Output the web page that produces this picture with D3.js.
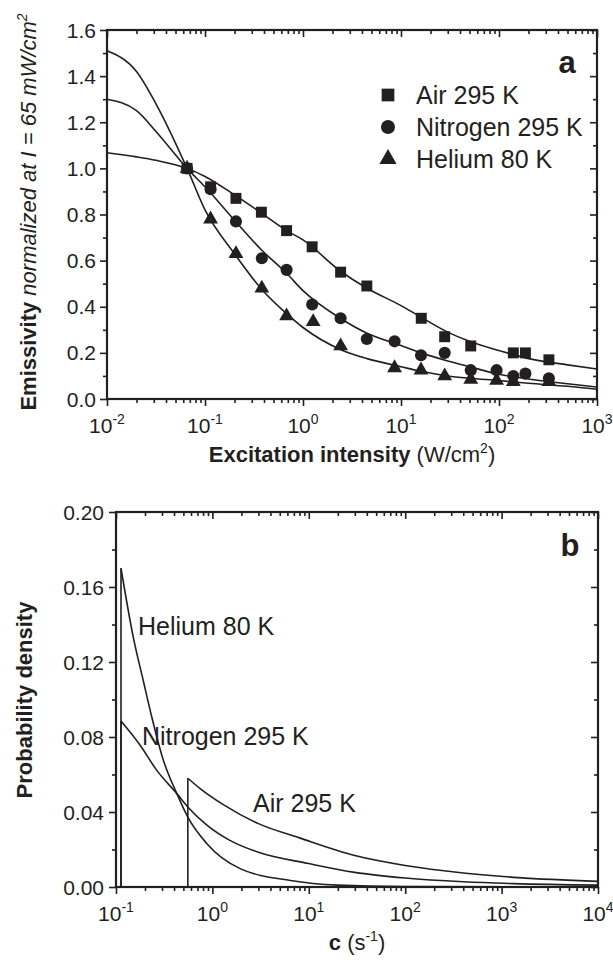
<!DOCTYPE html>
<html>
<head>
<meta charset="utf-8">
<script src="https://cdn.jsdelivr.net/npm/d3@7"></script>
<style>
  body { margin: 0; background: #fff; }
  text { font-family: "Liberation Sans", Arial, sans-serif; fill: #231f20; }
</style>
</head>
<body>
<script>
// ---- panel a : measured points ----
var airI = [0.0656, 0.114, 0.207, 0.376, 0.68, 1.24, 2.42, 4.48, 16.1, 27.9, 51.5, 140, 186, 323];
var airE = [1.00, 0.92, 0.87, 0.81, 0.73, 0.66, 0.55, 0.49, 0.35, 0.27, 0.23, 0.20, 0.20, 0.17];
var n2I = [0.0656, 0.114, 0.207, 0.38, 0.68, 1.24, 2.42, 4.48, 8.6, 16.0, 27.9, 51.5, 94.5, 140, 186, 323];
var n2E = [1.00, 0.91, 0.77, 0.61, 0.56, 0.41, 0.35, 0.26, 0.25, 0.19, 0.20, 0.125, 0.125, 0.10, 0.11, 0.09];
var heI = [0.0656, 0.114, 0.207, 0.38, 0.68, 1.27, 2.42, 8.6, 16.0, 27.9, 51.5, 94.5, 140, 323];
var heE = [1.00, 0.78, 0.63, 0.48, 0.36, 0.335, 0.23, 0.135, 0.125, 0.10, 0.085, 0.08, 0.075, 0.075];

// ---- panel a : fitted curves ----
var fitI = [0.01, 0.02, 0.0316, 0.0656, 0.1, 0.2, 0.38, 0.68, 1, 2.4, 4.5, 10, 16, 30, 50, 100, 200, 500, 1000];
var airFit = [1.068, 1.05, 1.035, 1.0, 0.965, 0.885, 0.805, 0.73, 0.69, 0.555, 0.48, 0.405, 0.355, 0.29, 0.25, 0.21, 0.175, 0.148, 0.13];
var n2Fit  = [1.30, 1.25, 1.16, 1.0, 0.92, 0.775, 0.645, 0.545, 0.47, 0.35, 0.285, 0.232, 0.2, 0.165, 0.14, 0.107, 0.087, 0.066, 0.052];
var heFit  = [1.51, 1.42, 1.28, 1.0, 0.82, 0.63, 0.475, 0.37, 0.31, 0.215, 0.175, 0.14, 0.12, 0.10, 0.09, 0.08, 0.068, 0.055, 0.042];

// ---- panel b : probability densities ----
var heC = [0.1127, 0.151, 0.192, 0.235, 0.31, 0.428, 0.556, 0.877, 1.94, 6.44, 20, 100, 10000];
var heP = [0.170, 0.1333, 0.110, 0.0907, 0.0676, 0.0498, 0.0373, 0.0231, 0.0098, 0.0035, 0.001, 0.0002, 0];
var n2C = [0.1127, 0.178, 0.265, 0.428, 0.556, 0.877, 1.5, 3, 10, 30, 100, 400, 1340, 10000];
var n2P = [0.0885, 0.0756, 0.0622, 0.0498, 0.0427, 0.033, 0.025, 0.0185, 0.0125, 0.0078, 0.0048, 0.0028, 0.0018, 0.001];
var airC = [0.556, 0.746, 1.31, 3, 8, 30, 100, 400, 1500, 10000];
var airP = [0.058, 0.0525, 0.0438, 0.0338, 0.0262, 0.0168, 0.0115, 0.0075, 0.005, 0.003];

var legendNames = ["Air 295 K", "Nitrogen 295 K", "Helium 80 K"];
var aYTicks = [0, 0.2, 0.4, 0.6, 0.8, 1.0, 1.2, 1.4, 1.6];
var bYTicks = [0, 0.04, 0.08, 0.12, 0.16, 0.20];

var W = 613, H = 962;
var svg = d3.select("body").append("svg").attr("width", W).attr("height", H);
svg.append("rect").attr("width", W).attr("height", H).attr("fill", "#fff");

function logMinors(lo, hi){
	var out = [];
	for (var e = lo; e < hi; e++){
		for (var k = 2; k <= 9; k++){ out.push(k * Math.pow(10, e)); }
	}
	return out;
}
function decades(lo, hi){
	var out = [];
	for (var e = lo; e <= hi; e++){ out.push(Math.pow(10, e)); }
	return out;
}

// frame + mirrored ticks
function drawAxes(g, x, y, box, xMajor, xMinor, yMajor, yMinor){
	function ax(axis, tr, size, vals){
		var a = g.append("g").attr("transform", tr)
			.call(axis.tickValues(vals).tickSize(size).tickFormat(""));
		a.select(".domain").remove();
		a.selectAll("line").attr("stroke", "#231f20").attr("stroke-width", 1.6);
	}
	ax(d3.axisBottom(x), "translate(0," + box.b + ")", 7, xMajor);
	ax(d3.axisBottom(x), "translate(0," + box.b + ")", 4, xMinor);
	ax(d3.axisTop(x), "translate(0," + box.t + ")", -7, xMajor);
	ax(d3.axisTop(x), "translate(0," + box.t + ")", -4, xMinor);
	ax(d3.axisLeft(y), "translate(" + box.l + ",0)", 7, yMajor);
	ax(d3.axisLeft(y), "translate(" + box.l + ",0)", 4, yMinor);
	ax(d3.axisRight(y), "translate(" + box.r + ",0)", -7, yMajor);
	ax(d3.axisRight(y), "translate(" + box.r + ",0)", -4, yMinor);
	g.append("rect")
		.attr("x", box.l).attr("y", box.t)
		.attr("width", box.r - box.l).attr("height", box.b - box.t)
		.attr("fill", "none").attr("stroke", "#231f20").attr("stroke-width", 2.2);
}

function xLabels(g, x, vals, yPos){
	vals.forEach(function(v){
		var t = g.append("text").attr("x", x(v)).attr("y", yPos)
			.attr("text-anchor", "middle").style("font-size", "21px");
		t.append("tspan").text("10");
		t.append("tspan").attr("dy", -9).style("font-size", "14px").text(Math.round(Math.log10(v)));
	});
}
function yLabels(g, y, vals, xPos, fmt){
	vals.forEach(function(v){
		g.append("text").attr("x", xPos).attr("y", y(v) + 7.5)
			.attr("text-anchor", "end").style("font-size", "21px").text(fmt(v));
	});
}

//===============================================
// Panel a
//===============================================
var boxA = {l: 107, r: 597, t: 30, b: 399};
var xA = d3.scaleLog().domain([1e-2, 1e3]).range([boxA.l, boxA.r]);
var yA = d3.scaleLinear().domain([0, 1.6]).range([boxA.b, boxA.t]);
var gA = svg.append("g");

var yMinorA = d3.range(1, 16, 2).map(function(d){ return d / 10; });
drawAxes(gA, xA, yA, boxA, decades(-2, 3), logMinors(-2, 3), aYTicks, yMinorA);
xLabels(gA, xA, decades(-2, 3), 433);
yLabels(gA, yA, aYTicks, 96, d3.format(".1f"));

var lineA = d3.line()
	.x(function(d){ return xA(d[0]); })
	.y(function(d){ return yA(d[1]); })
	.curve(d3.curveMonotoneX);
[airFit, n2Fit, heFit].forEach(function(fit){
	gA.append("path")
		.datum(fitI.map(function(v, i){ return [v, fit[i]]; }))
		.attr("d", lineA)
		.attr("fill", "none").attr("stroke", "#231f20").attr("stroke-width", 1.6);
});

var series = [
	{xs: airI, ys: airE, type: d3.symbolSquare, size: 120},
	{xs: n2I, ys: n2E, type: d3.symbolCircle, size: 115},
	{xs: heI, ys: heE, type: d3.symbolTriangle, size: 95}
];
series.forEach(function(s){
	gA.append("g").selectAll("path")
		.data(s.xs.map(function(v, i){ return [v, s.ys[i]]; }))
		.enter().append("path")
		.attr("transform", function(d){ return "translate(" + xA(d[0]) + "," + yA(d[1]) + ")"; })
		.attr("d", d3.symbol().type(s.type).size(s.size))
		.attr("fill", "#231f20");
});

// legend
series.forEach(function(s, i){
	var cy = 95 + i * 32;
	gA.append("path")
		.attr("transform", "translate(388," + cy + ")")
		.attr("d", d3.symbol().type(s.type).size(s.size * 1.35))
		.attr("fill", "#231f20");
	gA.append("text").attr("x", 416).attr("y", cy + 9)
		.style("font-size", "25px").text(legendNames[i]);
});

gA.append("text").attr("x", 567).attr("y", 73).attr("text-anchor", "middle")
	.style("font-size", "31px").style("font-weight", "bold").text("a");

var tA = gA.append("text").attr("x", 352).attr("y", 462).attr("text-anchor", "middle")
	.style("font-size", "22px");
tA.append("tspan").style("font-weight", "bold").text("Excitation intensity ");
tA.append("tspan").text("(W/cm");
tA.append("tspan").attr("dy", -9).style("font-size", "14px").text("2");
tA.append("tspan").attr("dy", 9).text(")");

var yTA = gA.append("text").attr("transform", "translate(36,212) rotate(-90)")
	.attr("text-anchor", "middle").style("font-size", "22px");
yTA.append("tspan").style("font-weight", "bold").text("Emissivity ");
yTA.append("tspan").style("font-style", "italic").text("normalized at I = 65 mW/cm");
yTA.append("tspan").attr("dy", -9).style("font-style", "italic").style("font-size", "14px").text("2");

//===============================================
// Panel b
//===============================================
var boxB = {l: 116, r: 598, t: 512, b: 887};
var xB = d3.scaleLog().domain([1e-1, 1e4]).range([boxB.l, boxB.r]);
var yB = d3.scaleLinear().domain([0, 0.2]).range([boxB.b, boxB.t]);
var gB = svg.append("g");

var yMinorB = d3.range(1, 10, 2).map(function(d){ return d * 0.02; });
drawAxes(gB, xB, yB, boxB, decades(-1, 4), logMinors(-1, 4), bYTicks, yMinorB);
xLabels(gB, xB, decades(-1, 4), 921);
yLabels(gB, yB, bYTicks, 104, d3.format(".2f"));

var lineB = d3.line()
	.x(function(d){ return xB(d[0]); })
	.y(function(d){ return yB(d[1]); })
	.curve(d3.curveMonotoneX);
[[heC, heP], [n2C, n2P], [airC, airP]].forEach(function(s){
	var cs = s[0], ps = s[1];
	// vertical cut-off edge
	gB.append("line")
		.attr("x1", xB(cs[0])).attr("x2", xB(cs[0]))
		.attr("y1", yB(0)).attr("y2", yB(ps[0]))
		.attr("stroke", "#231f20").attr("stroke-width", 1.6);
	gB.append("path")
		.datum(cs.map(function(v, i){ return [v, ps[i]]; }))
		.attr("d", lineB)
		.attr("fill", "none").attr("stroke", "#231f20").attr("stroke-width", 1.6);
});

gB.append("text").attr("x", 138).attr("y", 635).style("font-size", "25px").text("Helium 80 K");
gB.append("text").attr("x", 142).attr("y", 745).style("font-size", "25px").text("Nitrogen 295 K");
gB.append("text").attr("x", 253).attr("y", 812).style("font-size", "25px").text("Air 295 K");

gB.append("text").attr("x", 570).attr("y", 556).attr("text-anchor", "middle")
	.style("font-size", "31px").style("font-weight", "bold").text("b");

var tB = gB.append("text").attr("x", 357).attr("y", 950).attr("text-anchor", "middle")
	.style("font-size", "22px");
tB.append("tspan").style("font-weight", "bold").text("c ");
tB.append("tspan").text("(s");
tB.append("tspan").attr("dy", -9).style("font-size", "14px").text("-1");
tB.append("tspan").attr("dy", 9).text(")");

gB.append("text").attr("transform", "translate(32,700) rotate(-90)")
	.attr("text-anchor", "middle").style("font-size", "22px").style("font-weight", "bold")
	.text("Probability density");
</script>
</body>
</html>
